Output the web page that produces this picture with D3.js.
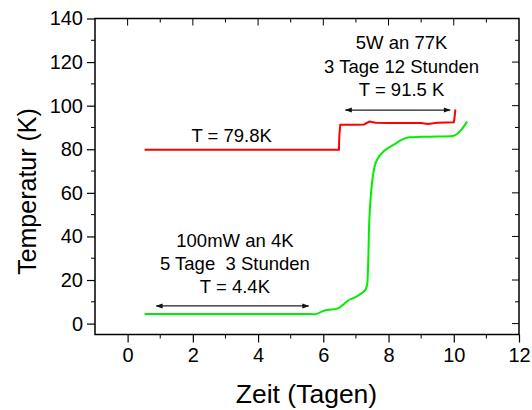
<!DOCTYPE html>
<html><head><meta charset="utf-8">
<script src="https://cdn.jsdelivr.net/npm/d3@7"></script>
<style>body{margin:0;background:#fff}svg{display:block;font-family:Arial,"Liberation Sans",sans-serif}</style>
</head><body><svg id="c" width="532" height="410"></svg>
<script>
const xTicks = [0, 2, 4, 6, 8, 10, 12];
const yTicks = [0, 20, 40, 60, 80, 100, 120, 140];
const greenX = [0.52, 1, 2, 3, 4, 5, 5.59, 5.74, 6.04, 6.45, 6.6, 6.76, 7.0, 7.17, 7.3, 7.35, 7.38, 7.40, 7.43, 7.47, 7.57, 7.68, 7.78, 7.98, 8.15, 8.34, 8.65, 9.0, 9.5, 9.97, 10.1, 10.23, 10.41];
const greenY = [4.4, 4.4, 4.4, 4.4, 4.4, 4.4, 4.4, 4.3, 6.0, 7.0, 8.6, 10.6, 12.3, 13.9, 15.8, 18.5, 30, 43, 53, 61, 72, 76, 78, 80.5, 82, 83.8, 85.5, 85.7, 85.8, 86.1, 87, 88.9, 92.7];
const redX = [0.52, 3, 6.48, 6.49, 6.52, 7.0, 7.25, 7.41, 7.6, 8.0, 8.5, 9.0, 9.2, 9.5, 10.0, 10.02, 10.05];
const redY = [79.8, 79.8, 79.8, 86, 91.2, 91.3, 91.4, 92.7, 92.2, 92.0, 92.1, 92.1, 91.6, 92.2, 92.4, 94, 98.3];
const annotations = [
  {lines: ["5W an 77K", "3 Tage 12 Stunden", "T = 91.5 K"], x: 8.40, y: 104.4},
  {lines: ["100mW an 4K", "5 Tage  3 Stunden", "T = 4.4K"], x: 3.29, y: 13.9},
  {lines: ["T = 79.8K"], x: 3.19, y: 83.5}
];
const arrows = [{x1: 6.68, x2: 9.89, y: 98}, {x1: 0.88, x2: 5.55, y: 8.1}];

const svg = d3.select("#c");
const L = 95, R = 519, T = 18.5, B = 334.5;
const x = d3.scaleLinear().domain([-1, 12]).range([L, R]);
const y = d3.scaleLinear().domain([-5, 140]).range([B, T]);

const defs = svg.append("defs");
defs.append("marker").attr("id","ah").attr("viewBox","0 0 10 10").attr("refX",9).attr("refY",5)
  .attr("markerWidth",9).attr("markerHeight",7).attr("markerUnits","userSpaceOnUse").attr("orient","auto-start-reverse")
  .append("path").attr("d","M0,1.5L10,5L0,8.5Z").attr("fill","#111");

const minorX = d3.range(-1, 12.01, 1);
const minorY = d3.range(-0, 140.01, 10);

function axis(gen, tr) {
  return svg.append("g").attr("transform", tr).call(gen);
}
const gb = axis(d3.axisBottom(x).tickValues(xTicks).tickSize(8).tickSizeOuter(0).tickPadding(5), `translate(0,${B})`);
gb.selectAll("text").attr("font-size", 20).attr("fill","#000");
gb.append("g").selectAll("line").data(minorX.filter(v=>!xTicks.includes(v) && v>-1)).join("line")
  .attr("x1",d=>x(d)).attr("x2",d=>x(d)).attr("y1",0).attr("y2",4).attr("stroke","#000");
const gl = axis(d3.axisLeft(y).tickValues(yTicks).tickSize(8).tickSizeOuter(0).tickPadding(4), `translate(${L},0)`);
gl.selectAll("text").attr("font-size", 20).attr("fill","#000");
gl.append("g").selectAll("line").data(minorY.filter(v=>!yTicks.includes(v))).join("line")
  .attr("y1",d=>y(d)).attr("y2",d=>y(d)).attr("x1",0).attr("x2",-4).attr("stroke","#000");
const gt = svg.append("g");
gt.selectAll("line").data(minorX.filter(v=>v>-1 && v<12)).join("line")
  .attr("x1",d=>x(d)).attr("x2",d=>x(d)).attr("y1",T).attr("y2",d=>T+(xTicks.includes(d)?7:4)).attr("stroke","#000");
const gr = svg.append("g");
gr.selectAll("line").data(minorY.filter(v=>v<140)).join("line")
  .attr("y1",d=>y(d)).attr("y2",d=>y(d)).attr("x1",R).attr("x2",d=>R-(yTicks.includes(d)?7:4)).attr("stroke","#000");
svg.selectAll(".domain").remove();
svg.append("rect").attr("x",L).attr("y",T).attr("width",R-L).attr("height",B-T)
  .attr("fill","none").attr("stroke","#000").attr("stroke-width",1.5);
svg.selectAll(".tick line").attr("stroke","#000").attr("stroke-width",1.2);

const line = d3.line().x(d=>x(d[0])).y(d=>y(d[1]));
svg.append("path").datum(redX.map((v,i)=>[v, redY[i]])).attr("d", line)
  .attr("fill","none").attr("stroke","#ff0000").attr("stroke-width",2);
svg.append("path").datum(greenX.map((v,i)=>[v, greenY[i]])).attr("d", d3.line().curve(d3.curveMonotoneX).x(d=>x(d[0])).y(d=>y(d[1])))
  .attr("fill","none").attr("stroke","#00ee00").attr("stroke-width",2);

arrows.forEach(a => {
  svg.append("line").attr("x1",x(a.x1)).attr("x2",x(a.x2)).attr("y1",y(a.y)).attr("y2",y(a.y))
    .attr("stroke","#222").attr("stroke-width",1.2)
    .attr("marker-start","url(#ah)").attr("marker-end","url(#ah)");
});

annotations.forEach(a => {
  const n = a.lines.length;
  a.lines.forEach((t, i) => {
    svg.append("text").attr("x", x(a.x)).attr("y", y(a.y) + (i - (n-1)) * 23.3)
      .attr("text-anchor","middle").attr("font-size",18.5).attr("fill","#000")
      .style("white-space","pre").text(t);
  });
});

svg.append("text").attr("x", 306.5).attr("y", 403).attr("text-anchor","middle")
  .attr("font-size",26.5).text("Zeit (Tagen)");
svg.append("text").attr("transform","translate(36,191.5) rotate(-90)").attr("text-anchor","middle")
  .attr("font-size",25).text("Temperatur (K)");
</script></body></html>
